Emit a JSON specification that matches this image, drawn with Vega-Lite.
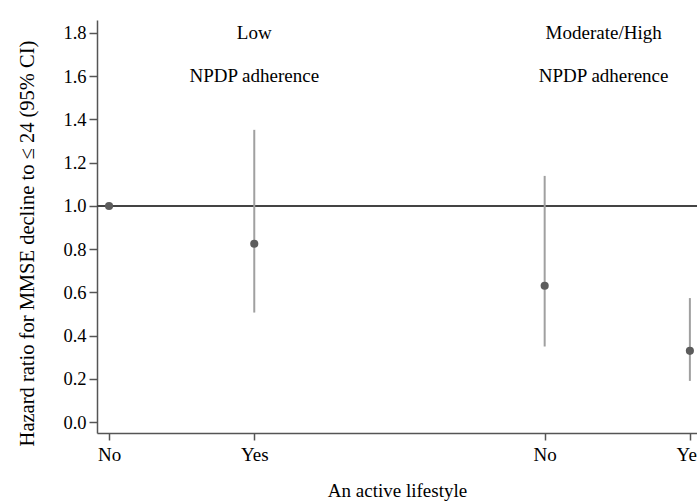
{
  "$schema": "https://vega.github.io/schema/vega-lite/v6.json",
  "width": 600,
  "height": 413,
  "autosize": {"type": "none"},
  "padding": {"left": 97, "top": 20, "right": 0, "bottom": 68},
  "background": "white",
  "config": {
    "font": "Liberation Serif",
    "view": {"stroke": null},
    "axis": {
      "labelFont": "Liberation Serif",
      "titleFont": "Liberation Serif",
      "labelColor": "black",
      "titleColor": "black",
      "titleFontWeight": "normal",
      "domainColor": "#555555",
      "tickColor": "#555555",
      "domainWidth": 1.5,
      "tickWidth": 1.5,
      "grid": false
    }
  },
  "datasets": {
    "est": [
      {"pos": 1, "lifestyle": "No", "npdp": "Low", "hr": 1.0, "lo": 1.0, "hi": 1.0},
      {"pos": 2, "lifestyle": "Yes", "npdp": "Low", "hr": 0.825, "lo": 0.507, "hi": 1.352},
      {"pos": 4, "lifestyle": "No", "npdp": "Moderate/High", "hr": 0.631, "lo": 0.35, "hi": 1.139},
      {"pos": 5, "lifestyle": "Yes", "npdp": "Moderate/High", "hr": 0.33, "lo": 0.191, "hi": 0.574}
    ],
    "labels": [
      {"pos": 2, "yv": 1.8, "label": "Low"},
      {"pos": 2, "yv": 1.6, "label": "NPDP adherence"},
      {"pos": 4.406, "yv": 1.8, "label": "Moderate/High"},
      {"pos": 4.406, "yv": 1.6, "label": "NPDP adherence"}
    ],
    "ref": [{"r": 1}]
  },
  "layer": [
    {
      "data": {"name": "ref"},
      "mark": {"type": "rule", "color": "#444444", "strokeWidth": 2},
      "encoding": {"y": {"field": "r", "type": "quantitative"}}
    },
    {
      "data": {"name": "est"},
      "mark": {"type": "rule", "color": "#a0a0a0", "strokeWidth": 2},
      "encoding": {
        "x": {"field": "pos", "type": "quantitative"},
        "y": {"field": "lo", "type": "quantitative"},
        "y2": {"field": "hi"}
      }
    },
    {
      "data": {"name": "est"},
      "mark": {"type": "point", "filled": true, "color": "#5c5c5c", "opacity": 1, "size": 66},
      "encoding": {
        "x": {
          "field": "pos", "type": "quantitative",
          "scale": {"domain": [0.917, 5.049], "nice": false, "zero": false},
          "axis": {
            "title": "An active lifestyle",
            "values": [1, 2, 4, 5],
            "labelExpr": "datum.value == 1 || datum.value == 4 ? 'No' : 'Yes'",
            "labelFontSize": 19,
            "titleFontSize": 19,
            "tickSize": 7,
            "labelPadding": 5,
            "titlePadding": 17,
            "labelFlush": false,
            "labelOverlap": false
          }
        },
        "y": {
          "field": "hr", "type": "quantitative",
          "scale": {"domain": [-0.05, 1.86], "nice": false, "zero": false},
          "axis": {
            "title": "Hazard ratio for MMSE decline to ≤ 24 (95% CI)",
            "values": [0, 0.2, 0.4, 0.6, 0.8, 1.0, 1.2, 1.4, 1.6, 1.8],
            "format": ".1f",
            "labelFontSize": 18.5,
            "titleFontSize": 20.5,
            "titleY": 223,
            "tickSize": 8,
            "labelPadding": 3,
            "titlePadding": 25,
            "labelFlush": false,
            "labelOverlap": false
          }
        }
      }
    },
    {
      "data": {"name": "labels"},
      "mark": {"type": "text", "fontSize": 19, "color": "black", "baseline": "middle", "align": "center"},
      "encoding": {
        "x": {"field": "pos", "type": "quantitative"},
        "y": {"field": "yv", "type": "quantitative"},
        "text": {"field": "label"}
      }
    }
  ]
}
